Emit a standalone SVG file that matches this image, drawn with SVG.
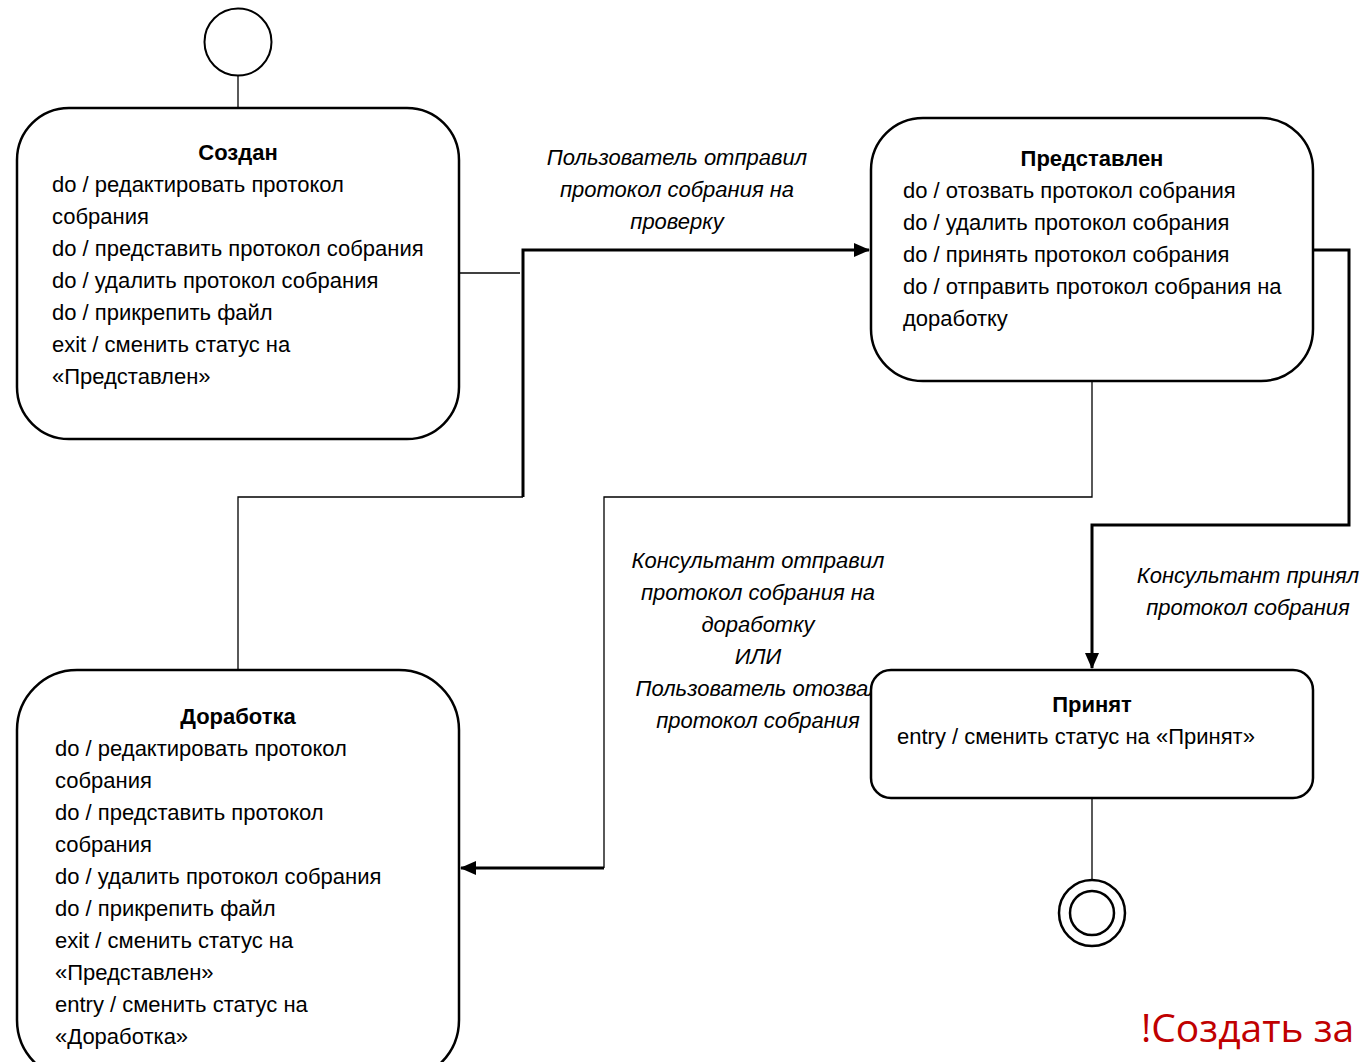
<svg xmlns="http://www.w3.org/2000/svg" width="1363" height="1062" viewBox="0 0 1363 1062">
<style>
.st{fill:#fff;stroke:#000;stroke-width:2.5}
.t{font-family:"Liberation Sans",Arial,sans-serif;font-size:22px;fill:#000}
.b{font-weight:bold;text-anchor:middle}
.lbl{font-family:"Liberation Sans",Arial,sans-serif;font-size:22px;font-style:italic;text-anchor:middle;fill:#000}
.thin{fill:none;stroke:#000;stroke-width:1.3}
.thick{fill:none;stroke:#000;stroke-width:3}
</style>
<defs>
<marker id="arr" markerWidth="16" markerHeight="14" refX="15" refY="7" orient="auto" markerUnits="userSpaceOnUse">
<path d="M0,0 L16,7 L0,14 Z" fill="#000"/>
</marker>
</defs>
<rect width="1363" height="1062" fill="#fff"/>
<g id="connectors">
<line class="thin" x1="238" y1="76" x2="238" y2="108"/>
<line class="thin" x1="459" y1="273" x2="520" y2="273"/>
<polyline class="thin" points="238,670 238,497 523,497"/>
<polyline class="thick" points="523,497 523,250 869,250" marker-end="url(#arr)"/>
<polyline class="thin" points="1092,381 1092,497 604,497 604,868"/>
<line class="thick" x1="604" y1="868" x2="461" y2="868" marker-end="url(#arr)"/>
<polyline class="thick" points="1313,250 1349,250 1349,525 1092,525 1092,668" marker-end="url(#arr)"/>
<line class="thin" x1="1092" y1="798" x2="1092" y2="880"/>
</g>
<g id="labels">
<text class="lbl"><tspan x="677" y="165">Пользователь отправил</tspan><tspan x="677" y="197">протокол собрания на</tspan><tspan x="677" y="229">проверку</tspan></text>
<text class="lbl"><tspan x="758" y="568">Консультант отправил</tspan><tspan x="758" y="600">протокол собрания на</tspan><tspan x="758" y="632">доработку</tspan><tspan x="758" y="664">ИЛИ</tspan><tspan x="758" y="696">Пользователь отозвал</tspan><tspan x="758" y="728">протокол собрания</tspan></text>
<text class="lbl"><tspan x="1248" y="583">Консультант принял</tspan><tspan x="1248" y="615">протокол собрания</tspan></text>
</g>
<g id="initial">
<circle cx="238" cy="42" r="33.5" fill="#fff" stroke="#000" stroke-width="2"/>
</g>
<g id="sozdan">
<rect class="st" x="17" y="108" width="442" height="331" rx="52"/>
<text class="t b" x="238" y="160">Создан</text>
<text class="t"><tspan x="52" y="192">do / редактировать протокол</tspan><tspan x="52" y="224">собрания</tspan><tspan x="52" y="256">do / представить протокол собрания</tspan><tspan x="52" y="288">do / удалить протокол собрания</tspan><tspan x="52" y="320">do / прикрепить файл</tspan><tspan x="52" y="352">exit / сменить статус на</tspan><tspan x="52" y="384">«Представлен»</tspan></text>
</g>
<g id="predstavlen">
<rect class="st" x="871" y="118" width="442" height="263" rx="52"/>
<text class="t b" x="1092" y="166">Представлен</text>
<text class="t"><tspan x="903" y="198">do / отозвать протокол собрания</tspan><tspan x="903" y="230">do / удалить протокол собрания</tspan><tspan x="903" y="262">do / принять протокол собрания</tspan><tspan x="903" y="294">do / отправить протокол собрания на</tspan><tspan x="903" y="326">доработку</tspan></text>
</g>
<g id="dorabotka">
<rect class="st" x="17" y="670" width="442" height="410" rx="60"/>
<text class="t b" x="238" y="724">Доработка</text>
<text class="t"><tspan x="55" y="756">do / редактировать протокол</tspan><tspan x="55" y="788">собрания</tspan><tspan x="55" y="820">do / представить протокол</tspan><tspan x="55" y="852">собрания</tspan><tspan x="55" y="884">do / удалить протокол собрания</tspan><tspan x="55" y="916">do / прикрепить файл</tspan><tspan x="55" y="948">exit / сменить статус на</tspan><tspan x="55" y="980">«Представлен»</tspan><tspan x="55" y="1012">entry / сменить статус на</tspan><tspan x="55" y="1044">«Доработка»</tspan></text>
</g>
<g id="prinyat">
<rect class="st" x="871" y="670" width="442" height="128" rx="20"/>
<text class="t b" x="1092" y="712">Принят</text>
<text class="t" x="897" y="744">entry / сменить статус на «Принят»</text>
</g>
<g id="final">
<circle cx="1092" cy="913" r="33" fill="#fff" stroke="#000" stroke-width="2.5"/>
<circle cx="1092" cy="913" r="22" fill="#fff" stroke="#000" stroke-width="2.5"/>
</g>
<text x="1141" y="1042" font-family="'Open Sans','Noto Sans',sans-serif" font-size="39" fill="#C00000">!Создать за</text>
</svg>
